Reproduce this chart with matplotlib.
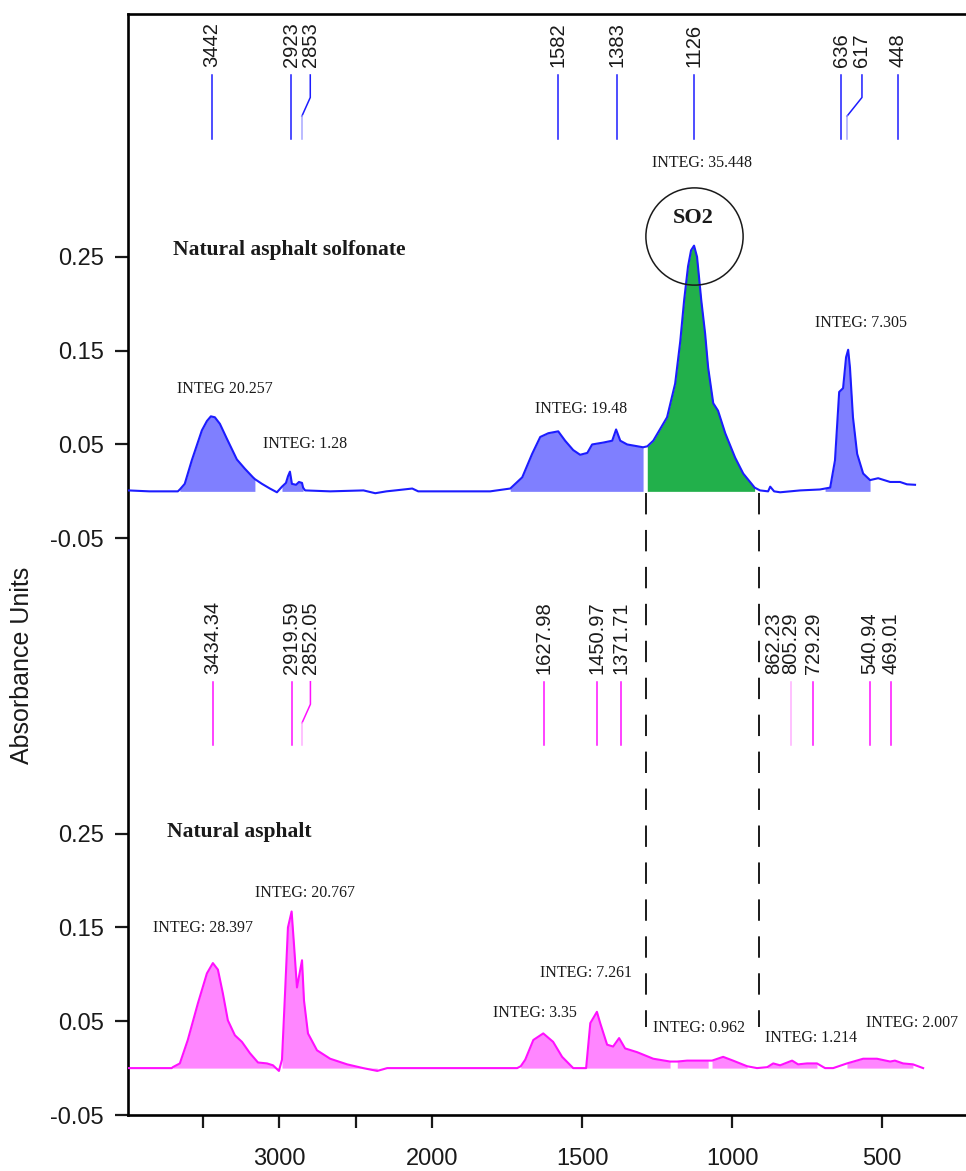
"""
FTIR comparison: natural asphalt vs natural asphalt sulfonate.
Two spectra stacked on one absorbance axis, wavenumber axis compressed above 2000 cm-1.
"""

import matplotlib
matplotlib.use('Agg')
import matplotlib.pyplot as plt
import numpy as np

# ============================================================
# THEME
# ============================================================
BLUE = '#1c1cff'
BLUE_FILL = '#7f7fff'
BLUE_FAINT = '#a8a8ff'
GREEN = '#22b04b'
MAGENTA = '#ff10ff'
PINK_FILL = '#ff86ff'
PINK_FAINT = '#ffb0ff'
INK = '#1a1a1a'

plt.rcParams.update({
    'font.family': 'Liberation Sans',
    'axes.linewidth': 1.9,
    'xtick.major.size': 9.5,
    'xtick.major.width': 1.6,
    'ytick.major.size': 9.5,
    'ytick.major.width': 1.6,
    'xtick.labelsize': 17,
    'ytick.labelsize': 17,
    'xtick.color': INK,
    'ytick.color': INK,
})

# ============================================================
# DATA
# ============================================================
# natural asphalt sulfonate (upper trace)
top_wn = [3990, 3850, 3664, 3651, 3619, 3573, 3507, 3474, 3448, 3422, 3389, 3343,
          3278, 3225, 3173, 3160, 3114, 3062, 3016, 2983, 2957, 2944, 2931, 2918,
          2891, 2872, 2852, 2845, 2832, 2668, 2450, 2373, 2300, 2242, 2131, 2092,
          1900, 1807, 1740, 1700, 1667, 1640, 1613, 1580, 1557, 1530, 1507, 1483,
          1467, 1430, 1400, 1387, 1373, 1350, 1297, 1283, 1263, 1217, 1190, 1173,
          1160, 1147, 1137, 1127, 1117, 1103, 1090, 1080, 1063, 1047, 1023, 990,
          963, 930, 925, 907, 880, 873, 860, 840, 773, 707, 690, 673, 657, 643,
          630, 620, 613, 607, 597, 583, 563, 540, 513, 473, 440, 417, 390]
top_abs = [0.001, 0.000, 0.000, 0.002, 0.008, 0.033, 0.065, 0.075, 0.080, 0.079, 0.072, 0.056,
           0.034, 0.024, 0.015, 0.013, 0.008, 0.003, -0.001, 0.005, 0.009, 0.016, 0.021, 0.008,
           0.007, 0.010, 0.009, 0.004, 0.001, 0.000, 0.001, -0.002, 0.000, 0.001, 0.003, 0.000,
           0.000, 0.000, 0.003, 0.015, 0.040, 0.058, 0.062, 0.064, 0.054, 0.044, 0.039, 0.041,
           0.050, 0.052, 0.054, 0.066, 0.054, 0.050, 0.047, 0.048, 0.054, 0.079, 0.115, 0.160,
           0.204, 0.240, 0.257, 0.262, 0.250, 0.204, 0.168, 0.132, 0.094, 0.086, 0.062, 0.036,
           0.019, 0.006, 0.004, 0.001, 0.000, 0.005, 0.000, -0.001, 0.001, 0.002, 0.003, 0.004, 0.033, 0.106,
           0.110, 0.143, 0.151, 0.132, 0.079, 0.040, 0.019, 0.012, 0.014, 0.010, 0.010, 0.0075, 0.007]

# natural asphalt (lower trace)
bot_wn = [3990, 3704, 3697, 3651, 3599, 3533, 3474, 3435, 3402, 3370, 3337, 3291,
          3245, 3193, 3140, 3081, 3042, 3003, 2983, 2963, 2944, 2920, 2905, 2885,
          2852, 2839, 2813, 2754, 2668, 2557, 2452, 2360, 2295, 2000, 1717, 1705,
          1690, 1663, 1630, 1597, 1567, 1530, 1487, 1473, 1451, 1440, 1417, 1397,
          1377, 1357, 1317, 1263, 1207, 1190, 1183, 1150, 1107, 1080, 1067, 1030,
          997, 950, 917, 883, 863, 840, 800, 780, 750, 717, 690, 663, 617, 563,
          517, 473, 457, 430, 397, 363]
bot_abs = [0.000, 0.000, 0.001, 0.005, 0.030, 0.069, 0.101, 0.112, 0.105, 0.080, 0.051, 0.035,
           0.028, 0.016, 0.006, 0.005, 0.003, -0.003, 0.009, 0.080, 0.150, 0.167, 0.133, 0.086,
           0.115, 0.072, 0.037, 0.019, 0.010, 0.004, 0.000, -0.003, 0.000, 0.000, 0.000, 0.002,
           0.009, 0.030, 0.037, 0.028, 0.012, 0.000, 0.000, 0.048, 0.060, 0.048, 0.025, 0.023,
           0.032, 0.021, 0.017, 0.010, 0.007, 0.007, 0.007, 0.008, 0.008, 0.008, 0.008, 0.012,
           0.008, 0.002, 0.000, 0.001, 0.005, 0.003, 0.008, 0.004, 0.005, 0.005, 0.000, 0.000,
           0.005, 0.010, 0.010, 0.007, 0.008, 0.005, 0.004, 0.000]

# picked peaks (cm-1)
top_peaks = [3442, 2923, 2853, 1582, 1383, 1126, 636, 617, 448]
bot_peaks = [3434.34, 2919.59, 2852.05, 1627.98, 1450.97, 1371.71,
             862.23, 805.29, 729.29, 540.94, 469.01]

# integration regions (cm-1) and integrals
top_int_lo = [3160, 2845, 1297, 925, 540]
top_int_hi = [3651, 2983, 1740, 1283, 690]
top_int_txt = ['INTEG 20.257', 'INTEG: 1.28', 'INTEG: 19.48', 'INTEG: 35.448', 'INTEG: 7.305']

bot_int_lo = [3003, 2360, 1487, 1207, 1080, 950, 700, 380]
bot_int_hi = [3697, 2983, 1705, 1487, 1183, 1067, 900, 657]
bot_int_txt = ['INTEG: 28.397', 'INTEG: 20.767', 'INTEG: 3.35', 'INTEG: 7.261',
               'INTEG: 0.962', 'INTEG: 1.214', 'INTEG: 2.007']

so2_band = 1126
so2_limits = [1287, 910]

# ============================================================
# LAYOUT
# ============================================================
OFFSET = 0.615          # vertical shift of the upper trace
COMPRESS = 0.51         # x compression above 2000 cm-1

def fwd(w):
    w = np.asarray(w, dtype=float)
    return np.where(w > 2000, 2000 + (w - 2000) * COMPRESS, w)

def inv(s):
    s = np.asarray(s, dtype=float)
    return np.where(s > 2000, 2000 + (s - 2000) / COMPRESS, s)

fig = plt.figure(figsize=(9.66, 11.71), dpi=100)
ax = fig.add_axes([128 / 966, 56 / 1171, 838 / 966, 1101 / 1171])
ax.set_xscale('function', functions=(fwd, inv))
ax.set_xlim(3990, 220)
ax.set_ylim(-0.05, 1.124)

# ============================================================
# SPECTRA
# ============================================================
tw = np.array(top_wn)
ta = np.array(top_abs) + OFFSET
bw = np.array(bot_wn)
ba = np.array(bot_abs)

for lo, hi in zip(top_int_lo, top_int_hi):
    col = GREEN if lo <= so2_band <= hi else BLUE_FILL
    ax.fill_between(tw, OFFSET, ta, where=(tw >= lo) & (tw <= hi),
                    color=col, lw=0, zorder=2)
for lo, hi in zip(bot_int_lo, bot_int_hi):
    ax.fill_between(bw, 0, ba, where=(bw >= lo) & (bw <= hi),
                    color=PINK_FILL, lw=0, zorder=2)

ax.plot(tw, ta, color=BLUE, lw=1.5, zorder=3)
ax.plot(bw, ba, color=MAGENTA, lw=1.5, zorder=3)

# ============================================================
# PEAK PICKS
# ============================================================
NUDGE = {2853: -55, 617: -50, 2852.05: -55}
NO_LINE = {862.23}
FAINT = {805.29}


def peak_marks(peaks, base, color, faint, fmt):
    y_lo, y_k2, y_k1, y_hi, y_txt = [base + v for v in (0.0, 0.024, 0.044, 0.068, 0.076)]
    for p in peaks:
        lab = p + NUDGE.get(p, 0)
        if p in NO_LINE:
            pass
        elif lab != p:
            ax.plot([lab, lab, p], [y_hi, y_k1, y_k2], color=color, lw=1.1, zorder=3)
            ax.plot([p, p], [y_k2, y_lo], color=faint, lw=1.1, zorder=3)
        else:
            ax.plot([p, p], [y_lo, y_hi], color=faint if p in FAINT else color,
                    lw=1.1, zorder=3)
        ax.text(lab, y_txt, fmt(p), rotation=90, ha='center', va='bottom',
                fontsize=14.5, color=INK)


peak_marks(top_peaks, OFFSET + 0.376, BLUE, BLUE_FAINT, lambda p: f'{p:d}')
peak_marks(bot_peaks, 0.344, MAGENTA, PINK_FAINT, lambda p: f'{p:.2f}')

# ============================================================
# ANNOTATIONS
# ============================================================
serif = 'Liberation Serif'
top_int_pos = [(3671, 0.109), (3107, 0.051), (1657, 0.088), (1267, 0.350), (723, 0.179)]
for (x, y), s in zip(top_int_pos, top_int_txt):
    ax.text(x, y + OFFSET, s, family=serif, fontsize=11.5, ha='left', va='center', color=INK)

bot_int_pos = [(3828, 0.149), (3160, 0.187), (1797, 0.059), (1640, 0.101),
               (1263, 0.043), (890, 0.032), (553, 0.048)]
for (x, y), s in zip(bot_int_pos, bot_int_txt):
    ax.text(x, y, s, family=serif, fontsize=11.5, ha='left', va='center', color=INK)

ax.text(3697, 0.257 + OFFSET, 'Natural asphalt solfonate', family=serif,
        fontsize=15.5, fontweight='bold', ha='left', va='center', color=INK)
ax.text(3737, 0.252, 'Natural asphalt', family=serif,
        fontsize=15.5, fontweight='bold', ha='left', va='center', color=INK)

# SO2 callout
ax.text(1130, 0.291 + OFFSET, 'SO2', family=serif, fontsize=16, fontweight='bold',
        ha='center', va='center', color=INK, zorder=5)
ax.plot([1128], [0.272 + OFFSET], marker='o', ms=70, mfc='none', mec=INK, mew=1.1, zorder=5)

# integration limits of the SO2 band
for w in so2_limits:
    ax.plot([w, w], [OFFSET - 0.002, 0.044], color=INK, lw=1.4, dashes=(11, 8), zorder=4)

# ============================================================
# AXES
# ============================================================
ax.spines['right'].set_visible(False)
ax.set_xticks([3500, 3000, 2500, 2000, 1500, 1000, 500])
ax.set_xticklabels(['', '3000', '', '2000', '1500', '1000', '500'])
ax.tick_params(axis='x', direction='out', pad=14)

base_ticks = [-0.05, 0.05, 0.15, 0.25]
ax.set_yticks(base_ticks + [t + OFFSET for t in base_ticks])
ax.set_yticklabels([f'{t:.2f}' for t in base_ticks] * 2)
ax.tick_params(axis='y', direction='out', pad=8)

fig.text(22 / 966, 1 - 665 / 1171, 'Absorbance Units', rotation=90,
         ha='center', va='center', fontsize=18, color=INK)

fig.savefig('out.png', dpi=100, facecolor='white')
